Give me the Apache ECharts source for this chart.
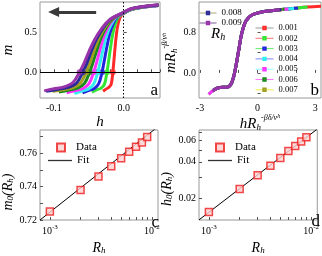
<!DOCTYPE html>
<html><head><meta charset="utf-8">
<script src="https://cdn.jsdelivr.net/npm/echarts@6/dist/echarts.min.js"></script>
<style>html,body{margin:0;padding:0;background:#fff}#c{width:322px;height:256px}</style>
</head><body><div id="c"></div>
<script>
// ---------- data ----------
const RhLabels = ['0.001','0.002','0.003','0.004','0.005','0.006','0.007','0.008','0.009'];
const RhValues = [0.001,0.002,0.003,0.004,0.005,0.006,0.007,0.008,0.009];
const markerColors = ['#ff2a2a','#33e633','#2424e0','#33f0f0','#ff33ff','#1a8a1a','#a0a020','#2a2a99','#9933aa'];
const legendLineColors = ['#9a9a9a','#ff7070','#66ee66','#8080ff','#88ffff','#ff77ff','#eeee44','#a8a870','#7a5a9a'];

// panel a: m(h) curves
const hR001 = [-0.0296,-0.0250,-0.0211,-0.0179,-0.0156,-0.0140,-0.0122,-0.0103,-0.0078,-0.0047,0,0.01,0.025,0.05];
const mR001 = [-0.24,-0.21,-0.19,-0.15,0,0.15,0.33,0.49,0.62,0.70,0.74,0.785,0.815,0.84];
const hR002 = [-0.0456,-0.0384,-0.0324,-0.0276,-0.0240,-0.0216,-0.0187,-0.0158,-0.0120,-0.0072,0,0.01,0.025,0.05];
const mR002 = [-0.25,-0.22,-0.20,-0.15,0,0.145,0.32,0.48,0.61,0.70,0.742,0.787,0.816,0.841];
const hR003 = [-0.0591,-0.0498,-0.0420,-0.0358,-0.0311,-0.0280,-0.0243,-0.0205,-0.0156,-0.0093,0,0.01,0.025,0.05];
const mR003 = [-0.26,-0.23,-0.205,-0.145,0,0.14,0.315,0.47,0.60,0.695,0.744,0.789,0.817,0.842];
const hR004 = [-0.0707,-0.0595,-0.0502,-0.0428,-0.0372,-0.0335,-0.0290,-0.0246,-0.0186,-0.0112,0,0.01,0.025,0.05];
const mR004 = [-0.27,-0.235,-0.21,-0.145,0,0.135,0.31,0.46,0.59,0.69,0.746,0.791,0.819,0.843];
const hR005 = [-0.0817,-0.0688,-0.0581,-0.0495,-0.0430,-0.0387,-0.0335,-0.0284,-0.0215,-0.0129,0,0.01,0.025,0.05];
const mR005 = [-0.26,-0.23,-0.205,-0.14,0,0.13,0.30,0.45,0.585,0.685,0.748,0.793,0.82,0.845];
const hR006 = [-0.0929,-0.0782,-0.0660,-0.0562,-0.0489,-0.0440,-0.0381,-0.0323,-0.0245,-0.0147,0,0.01,0.025,0.05];
const mR006 = [-0.25,-0.225,-0.20,-0.14,0,0.125,0.29,0.44,0.575,0.68,0.75,0.795,0.821,0.846];
const hR007 = [-0.1020,-0.0859,-0.0725,-0.0618,-0.0537,-0.0483,-0.0419,-0.0354,-0.0269,-0.0161,0,0.01,0.025,0.05];
const mR007 = [-0.24,-0.22,-0.195,-0.135,0,0.12,0.285,0.43,0.565,0.68,0.752,0.797,0.822,0.847];
const hR008 = [-0.1113,-0.0938,-0.0791,-0.0674,-0.0586,-0.0527,-0.0457,-0.0387,-0.0293,-0.0176,0,0.01,0.025,0.05];
const mR008 = [-0.24,-0.215,-0.19,-0.135,0,0.115,0.28,0.42,0.56,0.675,0.754,0.799,0.824,0.848];
const hR009 = [-0.1140,-0.1013,-0.0855,-0.0728,-0.0633,-0.0570,-0.0494,-0.0418,-0.0317,-0.0190,0,0.01,0.025,0.05];
const mR009 = [-0.235,-0.21,-0.185,-0.13,0,0.11,0.27,0.41,0.55,0.67,0.756,0.80,0.825,0.85];
const curvesH = [hR001,hR002,hR003,hR004,hR005,hR006,hR007,hR008,hR009];
const curvesM = [mR001,mR002,mR003,mR004,mR005,mR006,mR007,mR008,mR009];

// panel b: scaled collapse
const sR001 = [-2.3,-2.05,-1.8,-1.6,-1.4,-1.25,-1.12,-0.98,-0.82,-0.6,-0.3,0.2,0.7,1.15,1.6,2.1,2.6,3.3];
const yR001 = [-0.34,-0.29,-0.28,-0.28,-0.23,-0.08,0.15,0.45,0.78,1.02,1.13,1.19,1.215,1.235,1.25,1.27,1.285,1.30];
const sR002 = [-2.55,-2.3,-2.05,-1.8,-1.6,-1.4,-1.25,-1.12,-0.98,-0.82,-0.6,-0.3,0.2,0.7,1.15,1.6,2.1,2.6];
const yR002 = [-0.42,-0.34,-0.29,-0.28,-0.28,-0.23,-0.08,0.15,0.45,0.78,1.02,1.13,1.19,1.215,1.235,1.25,1.27,1.285];
const sR003 = [-2.3,-2.05,-1.8,-1.6,-1.4,-1.25,-1.12,-0.98,-0.82,-0.6,-0.3,0.2,0.7,1.15,1.6,2.1];
const yR003 = [-0.34,-0.29,-0.28,-0.28,-0.23,-0.08,0.15,0.45,0.78,1.02,1.13,1.19,1.215,1.235,1.25,1.27];
const sR004 = [-2.3,-2.05,-1.8,-1.6,-1.4,-1.25,-1.12,-0.98,-0.82,-0.6,-0.3,0.2,0.7,1.15,1.6,1.9];
const yR004 = [-0.34,-0.29,-0.28,-0.28,-0.23,-0.08,0.15,0.45,0.78,1.02,1.13,1.19,1.215,1.235,1.25,1.26];
const sR005 = [-2.55,-2.3,-2.05,-1.8,-1.6,-1.4,-1.25,-1.12,-0.98,-0.82,-0.6,-0.3,0.2,0.7,1.15,1.6];
const yR005 = [-0.42,-0.34,-0.29,-0.28,-0.28,-0.23,-0.08,0.15,0.45,0.78,1.02,1.13,1.19,1.215,1.235,1.25];
const sR006 = [-2.3,-2.05,-1.8,-1.6,-1.4,-1.25,-1.12,-0.98,-0.82,-0.6,-0.3,0.2,0.7,1.15,1.4];
const yR006 = [-0.34,-0.29,-0.28,-0.28,-0.23,-0.08,0.15,0.45,0.78,1.02,1.13,1.19,1.215,1.235,1.243];
const sR007 = [-2.3,-2.05,-1.8,-1.6,-1.4,-1.25,-1.12,-0.98,-0.82,-0.6,-0.3,0.2,0.7,1.15,1.3];
const yR007 = [-0.34,-0.29,-0.28,-0.28,-0.23,-0.08,0.15,0.45,0.78,1.02,1.13,1.19,1.215,1.235,1.24];
const sR008 = [-2.3,-2.05,-1.8,-1.6,-1.4,-1.25,-1.12,-0.98,-0.82,-0.6,-0.3,0.2,0.7,1.15,1.25];
const yR008 = [-0.34,-0.29,-0.28,-0.28,-0.23,-0.08,0.15,0.45,0.78,1.02,1.13,1.19,1.215,1.235,1.238];
const sR009 = [-2.35,-2.05,-1.8,-1.6,-1.4,-1.25,-1.12,-0.98,-0.82,-0.6,-0.3,0.2,0.7,1.15];
const yR009 = [-0.36,-0.29,-0.28,-0.28,-0.23,-0.08,0.15,0.45,0.78,1.02,1.13,1.19,1.215,1.235];
const curvesS = [sR001,sR002,sR003,sR004,sR005,sR006,sR007,sR008,sR009];
const curvesY = [yR001,yR002,yR003,yR004,yR005,yR006,yR007,yR008,yR009];

// panels c, d
const m0Values = [0.7251,0.7380,0.7461,0.7522,0.7570,0.7610,0.7640,0.7665,0.7698];
const h0Values = [0.0156,0.0240,0.0311,0.0372,0.0430,0.0489,0.0537,0.0586,0.0633];
const fitMR = [0.0008,0.0115];
const fitMV = [0.7200,0.7760];
const fitHR = [0.0008,0.0115];
const fitHV = [0.01343,0.0740];

// tick labels
const aYLabels = [0,0.5];
const bXLabels = [-3,0,3];
const bXTicks = [-3,-2,-1,0,1,2,3];
const bYLabels = [0,0.8];
const bYTicks = [-0.4,0,0.4,0.8,1.2];
const logXLabels = [0.001,0.01];
const logXTicks = [0.001,0.002,0.003,0.004,0.005,0.006,0.007,0.008,0.009,0.01];
const cYLabels = [0.72,0.74,0.76];
const cYTicks = [0.72,0.73,0.74,0.75,0.76,0.77];
const dYLabels = [0.02,0.04,0.06];
const dYTicks = [0.02,0.03,0.04,0.05,0.06,0.07];

// ---------- chart ----------
const FONT = '"Liberation Serif", "Times New Roman", serif';
const zip = (a,b) => a.map((v,i)=>[v,b[i]]);
function richName(big){
  return {
    i:{fontFamily:FONT,fontStyle:'italic',fontSize:big,lineHeight:big+3,color:'#000',verticalAlign:'bottom'},
    sb:{fontFamily:FONT,fontStyle:'italic',fontSize:9,lineHeight:9,color:'#000',verticalAlign:'bottom'},
    sp:{fontFamily:FONT,fontStyle:'italic',fontSize:8,lineHeight:8,color:'#000',verticalAlign:'top'},
    sb2:{fontFamily:FONT,fontStyle:'italic',fontSize:6,lineHeight:11,color:'#000',verticalAlign:'top'}
  };
}
const tickStyle = {inside:true,length:3,lineStyle:{color:'#555',width:1}};
const labelBase = {fontFamily:FONT,fontSize:10,color:'#000',margin:4};
function ax(o){
  return Object.assign({axisLine:{show:false}, splitLine:{show:false}, nameLocation:'middle'}, o);
}
const logLabelFmt = v => '{b|10}{s|' + Math.round(Math.log10(v)) + '}';
const logRich = {b:{fontFamily:FONT,fontSize:10,lineHeight:12,color:'#000',verticalAlign:'bottom'},
                 s:{fontFamily:FONT,fontSize:7,lineHeight:7,color:'#000',verticalAlign:'top'}};

const grids = [
  {left:38,top:2,width:122,height:96},
  {left:199,top:2,width:122,height:96},
  {left:38,top:130,width:120,height:97},
  {left:199,top:130,width:120,height:97}
].map(g=>Object.assign(g,{show:true,borderColor:'#999',borderWidth:1,containLabel:false}));

const xAxes = [
  ax({gridIndex:0,type:'value',min:-0.12,max:0.052,interval:0.02,
      axisTick:tickStyle,
      axisLabel:Object.assign({},labelBase,{margin:5,formatter:v=>{const k=Math.round(v*100);return (k%10===0)?(k===0?'0.0':v.toFixed(1)):'';}}),
      name:'h',nameGap:17,nameTextStyle:{fontFamily:FONT,fontStyle:'italic',fontSize:15,color:'#000'}}),
  ax({gridIndex:1,type:'value',min:-3.05,max:3.3,
      axisTick:Object.assign({},tickStyle,{customValues:bXTicks}),
      axisLabel:Object.assign({},labelBase,{margin:5,customValues:bXLabels,formatter:v=>String(v)}),
      name:'{i|hR}{sb|h}{sp|-βδ/ν}{sb2|h}',nameGap:13,
      nameTextStyle:{fontFamily:FONT,color:'#000',rich:richName(15)}}),
  ax({gridIndex:2,type:'log',min:0.0008,max:0.0115,
      axisTick:Object.assign({},tickStyle,{customValues:logXTicks}),
      axisLabel:Object.assign({},labelBase,{customValues:logXLabels,formatter:logLabelFmt,rich:logRich}),
      name:'{i|R}{sb|h}',nameGap:18,nameTextStyle:{fontFamily:FONT,color:'#000',rich:richName(14)}}),
  ax({gridIndex:3,type:'log',min:0.0008,max:0.0115,
      axisTick:Object.assign({},tickStyle,{customValues:logXTicks}),
      axisLabel:Object.assign({},labelBase,{customValues:logXLabels,formatter:logLabelFmt,rich:logRich}),
      name:'{i|R}{sb|h}',nameGap:18,nameTextStyle:{fontFamily:FONT,color:'#000',rich:richName(14)}})
];
const yAxes = [
  ax({gridIndex:0,type:'value',min:-0.325,max:0.885,
      axisTick:Object.assign({},tickStyle,{customValues:aYLabels}),
      axisLabel:Object.assign({},labelBase,{margin:3,customValues:aYLabels,formatter:v=>v.toFixed(1)}),
      name:'m',nameGap:24,nameTextStyle:{fontFamily:FONT,fontStyle:'italic',fontSize:15,color:'#000'}}),
  ax({gridIndex:1,type:'value',min:-0.49,max:1.385,
      axisTick:Object.assign({},tickStyle,{customValues:bYTicks}),
      axisLabel:Object.assign({},labelBase,{margin:3,customValues:bYLabels,formatter:v=>v.toFixed(1)}),
      name:'{i|mR}{sb|h}{sp|-β/ν}{sb2|h}',nameGap:20,
      nameTextStyle:{fontFamily:FONT,color:'#000',rich:richName(15),padding:[0,6,0,0]}}),
  ax({gridIndex:2,type:'value',min:0.72,max:0.774,
      axisTick:Object.assign({},tickStyle,{customValues:cYTicks}),
      axisLabel:Object.assign({},labelBase,{margin:3,customValues:cYLabels,formatter:v=>v.toFixed(2)}),
      name:'{i|m}{sb|0}{i|(R}{sb|h}{i|)}',nameGap:25,
      nameTextStyle:{fontFamily:FONT,color:'#000',rich:richName(14),padding:[0,34,0,0]}}),
  ax({gridIndex:3,type:'log',min:0.0134,max:0.0727,
      axisTick:Object.assign({},tickStyle,{customValues:dYTicks}),
      axisLabel:Object.assign({},labelBase,{margin:3,customValues:dYLabels,formatter:v=>v.toFixed(2)}),
      name:'{i|h}{sb|0}{i|(R}{sb|h}{i|)}',nameGap:25,
      nameTextStyle:{fontFamily:FONT,color:'#000',rich:richName(14),padding:[0,28,0,0]}})
];

const series = [];
// panel a curves
RhLabels.forEach((r,i)=>{
  series.push({type:'line',name:'a'+r,xAxisIndex:0,yAxisIndex:0,data:zip(curvesH[i],curvesM[i]),
    smooth:0.35,showSymbol:false,symbol:'none',lineStyle:{color:markerColors[i],width:3},z:2,silent:true});
});
// panel a: zero-crossing dots + reference lines + arrow
series.push({type:'scatter',name:'aDots',xAxisIndex:0,yAxisIndex:0,
  data:h0Values.map((h,i)=>({value:[-h,0],itemStyle:{color:markerColors[i]}})),
  symbol:'circle',symbolSize:6,z:4,silent:true,
  markLine:{silent:true,symbol:'none',label:{show:false},animation:false,
    data:[
      {yAxis:0,lineStyle:{color:'#000',width:1.2,type:'solid'}},
      {xAxis:0,lineStyle:{color:'#000',width:1,type:[1.5,2]}},
      [{coord:[-0.0395,0.758],symbol:'none',lineStyle:{color:'#3a3a3a',width:3,type:'solid'}},
       {coord:[-0.1005,0.758],symbol:'triangle',symbolSize:[10,11]}]
    ]}
});
// panel b curves
RhLabels.forEach((r,i)=>{
  series.push({type:'line',name:r,xAxisIndex:1,yAxisIndex:1,data:zip(curvesS[i],curvesY[i]),
    smooth:0.35,showSymbol:false,symbol:'emptyRect',symbolSize:4,
    itemStyle:{color:markerColors[i]},lineStyle:{color:markerColors[i],width:3},z:2,silent:true});
});
// panel c
series.push({type:'line',name:'Fit',xAxisIndex:2,yAxisIndex:2,data:zip(fitMR,fitMV),symbol:'none',
  itemStyle:{color:'#000'},lineStyle:{color:'#000',width:1},z:2,silent:true});
series.push({type:'scatter',name:'Data',xAxisIndex:2,yAxisIndex:2,data:zip(RhValues,m0Values),
  symbol:'rect',symbolSize:7,itemStyle:{color:'#ffd0d0',borderColor:'#ee1c1c',borderWidth:1.5},z:3,silent:true});
// panel d
series.push({type:'line',name:'Fit',xAxisIndex:3,yAxisIndex:3,data:zip(fitHR,fitHV),symbol:'none',
  itemStyle:{color:'#000'},lineStyle:{color:'#000',width:1},z:2,silent:true});
series.push({type:'scatter',name:'Data',xAxisIndex:3,yAxisIndex:3,data:zip(RhValues,h0Values),
  symbol:'rect',symbolSize:7,itemStyle:{color:'#ffd0d0',borderColor:'#ee1c1c',borderWidth:1.5},z:3,silent:true});

const legendItem = i => ({name:RhLabels[i],
  itemStyle:{color:markerColors[i],borderColor:markerColors[i],borderWidth:1},
  lineStyle:{color:legendLineColors[i],width:1}});
const legendText = (size,extra) => Object.assign({fontFamily:FONT,fontSize:size,color:'#000'},extra||{});
const legends = [
  {orient:'vertical',left:194,top:3,itemWidth:17,itemHeight:3,itemGap:0,selectedMode:false,
   textStyle:legendText(9,{lineHeight:10}),data:[legendItem(7),legendItem(8)]},
  {orient:'vertical',left:250,top:18,itemWidth:18,itemHeight:3,itemGap:0.3,selectedMode:false,
   textStyle:legendText(8.5,{lineHeight:10}),data:[0,1,2,3,4,5,6].map(legendItem)},
  // panel c legend
  {orient:'vertical',left:51,top:137,itemWidth:8,itemHeight:8,selectedMode:false,
   textStyle:legendText(11,{padding:[0,0,0,6]}),data:['Data']},
  {orient:'vertical',left:43,top:150,itemWidth:24,itemHeight:1.3,selectedMode:false,
   textStyle:legendText(11),data:[{name:'Fit',icon:'rect',itemStyle:{color:'#333'}}]},
  // panel d legend
  {orient:'vertical',left:210,top:137,itemWidth:8,itemHeight:8,selectedMode:false,
   textStyle:legendText(11,{padding:[0,0,0,6]}),data:['Data']},
  {orient:'vertical',left:203,top:150,itemWidth:24,itemHeight:1.3,selectedMode:false,
   textStyle:legendText(11),data:[{name:'Fit',icon:'rect',itemStyle:{color:'#333'}}]}
];

const letter = (t,x,y) => ({type:'text',x:x,y:y,silent:true,z:100,
  style:{text:t,fontFamily:FONT,fontSize:17,fill:'#000',align:'right',verticalAlign:'bottom'}});
const graphic = [
  letter('a',158,99), letter('b',319,99), letter('c',159,231), letter('d',320,230),
  {type:'text',x:211,y:24,silent:true,z:100,style:{text:'{i|R}{sb|h}',rich:{
    i:{fontFamily:FONT,fontStyle:'italic',fontSize:15,lineHeight:18,fill:'#000',verticalAlign:'bottom'},
    sb:{fontFamily:FONT,fontStyle:'italic',fontSize:10,lineHeight:10,fill:'#000',verticalAlign:'bottom'}}}}
];

const chart = echarts.init(document.getElementById('c'));
chart.setOption({
  animation:false,
  backgroundColor:'#fff',
  grid:grids, xAxis:xAxes, yAxis:yAxes, series:series, legend:legends, graphic:graphic
});
</script></body></html>
